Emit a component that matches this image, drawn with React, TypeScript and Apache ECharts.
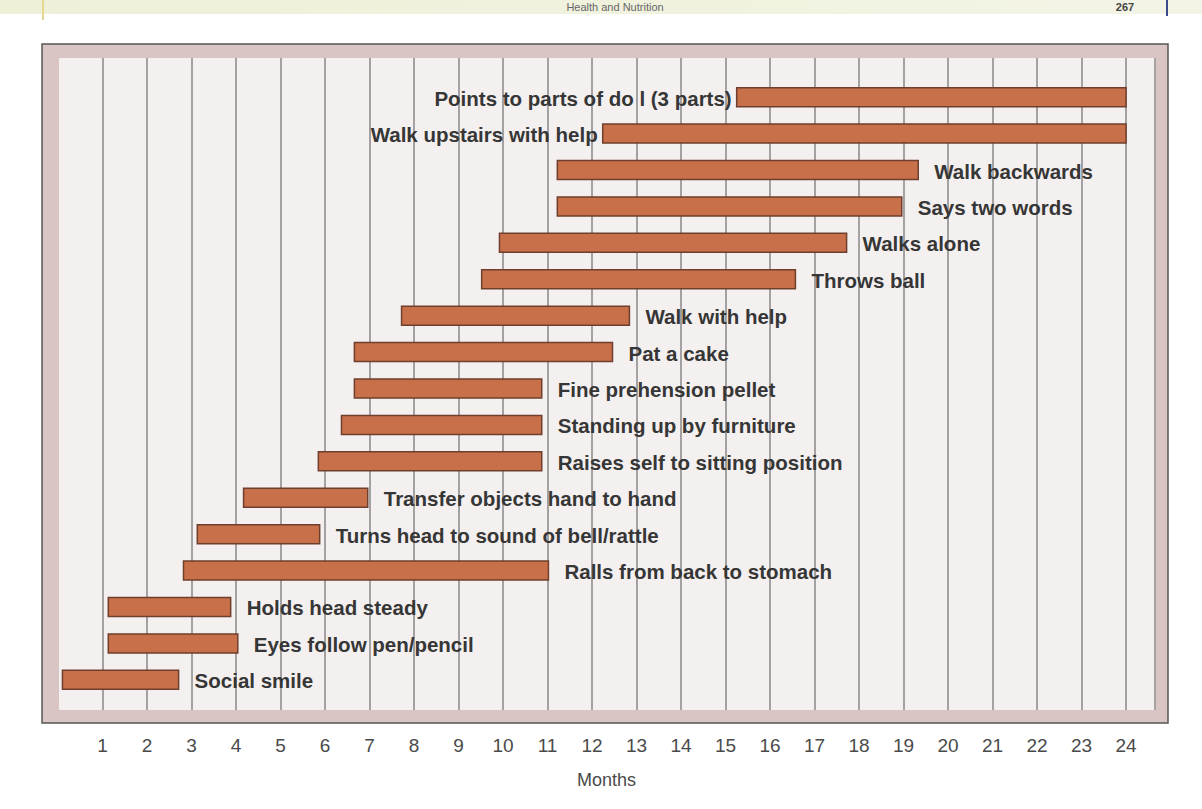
import React, { useEffect, useRef } from "react";
import * as echarts from "echarts";

const milestones = [
  "Points to parts of do l (3 parts)",
  "Walk upstairs with help",
  "Walk backwards",
  "Says two words",
  "Walks alone",
  "Throws ball",
  "Walk with help",
  "Pat a cake",
  "Fine prehension pellet",
  "Standing up by furniture",
  "Raises self to sitting position",
  "Transfer objects hand to hand",
  "Turns head to sound of bell/rattle",
  "Ralls from back to stomach",
  "Holds head steady",
  "Eyes follow pen/pencil",
  "Social smile",
];
const startMonths = [15.25, 12.24, 11.22, 11.22, 9.92, 9.52, 7.72, 6.66, 6.66, 6.37, 5.85, 4.17, 3.13, 2.82, 1.13, 1.13, 0.1];
const endMonths = [24, 24, 19.33, 18.96, 17.72, 16.57, 12.84, 12.46, 10.87, 10.87, 10.87, 6.96, 5.88, 11.02, 3.88, 4.04, 2.71];
const labelSides = ["left", "left", "right", "right", "right", "right", "right", "right", "right", "right", "right", "right", "right", "right", "right", "right", "right"];
const monthTicks = [1, 2, 3, 4, 5, 6, 7, 8, 9, 10, 11, 12, 13, 14, 15, 16, 17, 18, 19, 20, 21, 22, 23, 24];
const xAxisTitle = "Months";
const headerTitle = "Health and Nutrition";
const pageNumber = "267";

const FONT = "'Liberation Sans', Arial, Helvetica, sans-serif";

export default function App() {
  const ref = useRef<HTMLDivElement>(null);
  useEffect(() => {
    if (!ref.current) return;
    const chart = echarts.init(ref.current, null, { renderer: "svg" });
    const data = milestones.map((name, i) => [i, startMonths[i], endMonths[i], labelSides[i] === "left" ? 1 : 0]);
    const option: any = {
      animation: false,
      backgroundColor: "#ffffff",
      textStyle: { fontFamily: FONT },
      grid: [
        { left: 58, top: 58, width: 1097, height: 652 },
        { left: 58, top: 79, width: 1097, height: 619 },
      ],
      xAxis: [
        {
          gridIndex: 0,
          type: "value",
          min: 0,
          max: 24.65,
          interval: 1,
          axisLine: { show: false },
          axisTick: { show: false },
          splitLine: { show: true, lineStyle: { color: "#a3a1a1", width: 2 } },
          axisLabel: {
            margin: 26,
            fontSize: 19,
            color: "#4a4a4a",
            fontFamily: FONT,
            formatter: (v: number) => (monthTicks.indexOf(v) >= 0 ? String(v) : ""),
          },
          name: xAxisTitle,
          nameLocation: "middle",
          nameGap: 61,
          nameTextStyle: { fontSize: 18, color: "#4a4a4a", fontFamily: FONT },
        },
        { gridIndex: 1, type: "value", min: 0, max: 24.65, show: false },
      ],
      yAxis: [
        { gridIndex: 0, type: "value", show: false, min: 0, max: 1 },
        { gridIndex: 1, type: "category", data: milestones, inverse: true, show: false },
      ],
      graphic: [
        {
          type: "rect",
          shape: { x: 0, y: 0, width: 1202, height: 14 },
          style: {
            fill: new echarts.graphic.LinearGradient(0, 0, 1, 0, [
              { offset: 0, color: "#eef0d8" },
              { offset: 0.5, color: "#f0f2de" },
              { offset: 1, color: "#f3f4e6" },
            ]),
          },
          z: -10,
        },
        {
          type: "line",
          shape: { x1: 43, y1: 0, x2: 43, y2: 20 },
          style: { stroke: "#e6d890", lineWidth: 2 },
        },
        {
          type: "line",
          shape: { x1: 1167, y1: 0, x2: 1167, y2: 16 },
          style: { stroke: "#3a4a8a", lineWidth: 2 },
        },
        {
          type: "text",
          x: 615,
          y: 1,
          style: { text: headerTitle, fill: "#666", font: `11px ${FONT}`, textAlign: "center", textVerticalAlign: "top" },
        },
        {
          type: "text",
          x: 1125,
          y: 1,
          style: { text: pageNumber, fill: "#444", font: `bold 11px ${FONT}`, textAlign: "center", textVerticalAlign: "top" },
        },
        {
          type: "rect",
          shape: { x: 42, y: 44, width: 1126, height: 679 },
          style: { fill: "#d9c6c4", stroke: "#555", lineWidth: 1.5 },
          z: -5,
        },
        {
          type: "rect",
          shape: { x: 58, y: 58, width: 1097, height: 652 },
          style: { fill: "#f4f0ef" },
          z: -4,
        },
        {
          type: "rect",
          shape: { x: 56, y: 58, width: 3, height: 652 },
          style: { fill: "#d9c6c4" },
          z: 5,
        },
      ],
      series: [
        {
          type: "custom",
          xAxisIndex: 1,
          yAxisIndex: 1,
          data,
          encode: { x: [1, 2], y: 0 },
          z: 10,
          renderItem: (params: any, api: any) => {
            const idx = api.value(0);
            const s = api.coord([api.value(1), idx]);
            const e = api.coord([api.value(2), idx]);
            const h = 19;
            const left = api.value(3) === 1;
            const name = milestones[idx];
            return {
              type: "group",
              children: [
                {
                  type: "rect",
                  shape: { x: s[0], y: s[1] - h / 2, width: e[0] - s[0], height: h },
                  style: { fill: "#c8704a", stroke: "#6e3f2d", lineWidth: 1.5 },
                },
                {
                  type: "text",
                  x: left ? s[0] - 5 : e[0] + 16,
                  y: s[1] + 1,
                  style: {
                    text: name,
                    fill: "#363636",
                    font: `bold 20.5px ${FONT}`,
                    textAlign: left ? "right" : "left",
                    textVerticalAlign: "middle",
                  },
                  z2: 20,
                },
              ],
            };
          },
        },
      ],
    };
    chart.setOption(option);
    return () => chart.dispose();
  }, []);
  return (
    <div
      ref={ref}
      style={{ position: "absolute", left: 0, top: 0, width: 1202, height: 809, background: "#fff" }}
    />
  );
}
